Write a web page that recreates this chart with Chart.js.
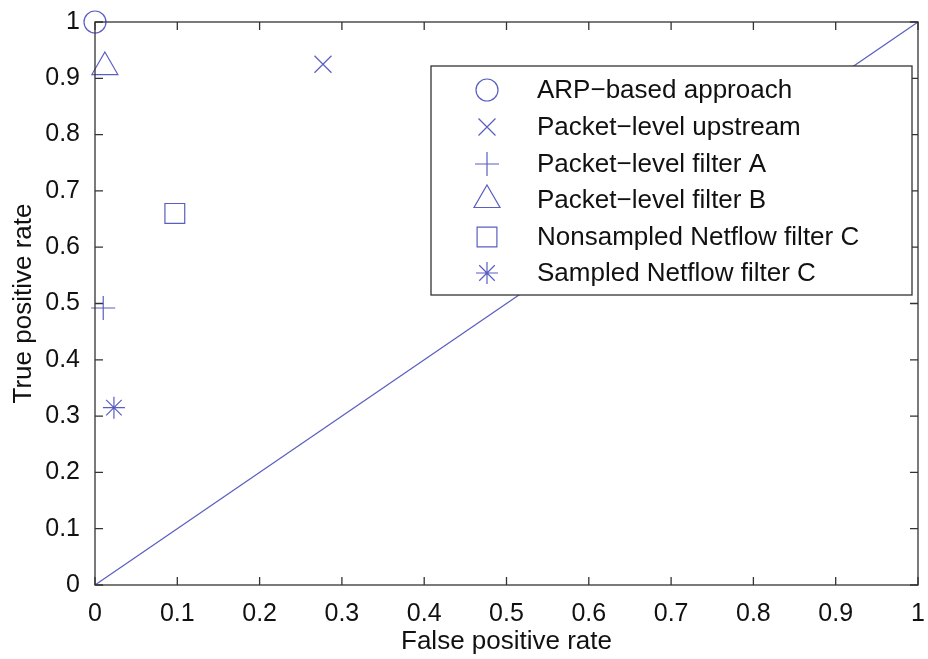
<!DOCTYPE html>
<html>
<head>
<meta charset="utf-8">
<script src="https://cdn.jsdelivr.net/npm/chart.js@4.4.1/dist/chart.umd.min.js"></script>
<style>
  html, body { margin: 0; padding: 0; background: #fff; }
  #wrap { width: 928px; height: 659px; }
</style>
</head>
<body>
<div id="wrap"><canvas id="chart" width="928" height="659"></canvas></div>
<script>
// data
var seriesNames = ['ARP\u2212based approach', 'Packet\u2212level upstream', 'Packet\u2212level filter A',
                   'Packet\u2212level filter B', 'Nonsampled Netflow filter C', 'Sampled Netflow filter C'];
var fprValues = [0, 0.277, 0.01, 0.012, 0.097, 0.023];
var tprValues = [1, 0.925, 0.492, 0.92, 0.66, 0.315];
var markers = ['circle', 'crossRot', 'cross', 'triangle', 'rect', 'star'];
var markerSizes = [11, 12, 12, 15, 14, 11];
var diagonalX = [0, 1];
var diagonalY = [0, 1];
var tickValues = [0, 0.1, 0.2, 0.3, 0.4, 0.5, 0.6, 0.7, 0.8, 0.9, 1];

var blue = '#5a5ec0';
var axisColor = '#333333';
var font = 'Arial, "Liberation Sans", Helvetica, sans-serif';

var datasets = seriesNames.map(function (name, i) {
  return {
    type: 'scatter',
    label: name,
    data: [{ x: fprValues[i], y: tprValues[i] }],
    pointStyle: markers[i],
    pointRadius: markerSizes[i],
    pointHoverRadius: markerSizes[i],
    borderColor: blue,
    backgroundColor: 'rgba(0,0,0,0)',
    borderWidth: 1.2,
    clip: false
  };
});
datasets.push({
  type: 'line',
  label: 'diagonal',
  data: diagonalX.map(function (x, i) { return { x: x, y: diagonalY[i] }; }),
  borderColor: blue,
  borderWidth: 1.2,
  pointRadius: 0,
  fill: false
});

// matlab-ish box with inward ticks
var boxPlugin = {
  id: 'box',
  afterDatasetsDraw: function (chart) {
    var ctx = chart.ctx, a = chart.chartArea;
    var xs = chart.scales.x, ys = chart.scales.y;
    ctx.save();
    ctx.strokeStyle = axisColor;
    ctx.lineWidth = 1.3;
    ctx.strokeRect(a.left, a.top, a.right - a.left, a.bottom - a.top);
    ctx.beginPath();
    tickValues.forEach(function (v) {
      var px = xs.getPixelForValue(v);
      ctx.moveTo(px, a.bottom); ctx.lineTo(px, a.bottom - 8);
      ctx.moveTo(px, a.top); ctx.lineTo(px, a.top + 8);
      var py = ys.getPixelForValue(v);
      ctx.moveTo(a.left, py); ctx.lineTo(a.left + 8, py);
      ctx.moveTo(a.right, py); ctx.lineTo(a.right - 8, py);
    });
    ctx.stroke();
    ctx.restore();
  }
};

// legend box inside the plot, drawn over the diagonal
var legendPlugin = {
  id: 'boxLegend',
  afterDraw: function (chart) {
    var ctx = chart.ctx;
    var left = 431, top = 66, w = 481, h = 229;
    ctx.save();
    ctx.fillStyle = '#fff';
    ctx.fillRect(left, top, w, h);
    ctx.strokeStyle = axisColor;
    ctx.lineWidth = 1.3;
    ctx.strokeRect(left, top, w, h);
    var rowY = [90, 127, 164, 200, 237, 273];
    seriesNames.forEach(function (name, i) {
      ctx.strokeStyle = blue;
      ctx.fillStyle = 'rgba(0,0,0,0)';
      ctx.lineWidth = 1.2;
      Chart.helpers.drawPoint(ctx, {
        pointStyle: markers[i], radius: markerSizes[i], rotation: 0, borderWidth: 1.2
      }, 487, rowY[i]);
      ctx.font = '26px ' + font;
      ctx.textBaseline = 'middle';
      ctx.fillStyle = '#111';
      ctx.fillText(name, 537, rowY[i] + 1);
    });
    ctx.restore();
  }
};

new Chart(document.getElementById('chart').getContext('2d'), {
  data: { datasets: datasets },
  options: {
    responsive: false,
    animation: false,
    layout: { autoPadding: false, padding: { top: 20, right: 10, left: 0, bottom: 0 } },
    plugins: { legend: { display: false }, tooltip: { enabled: false } },
    scales: {
      x: {
        type: 'linear', min: 0, max: 1,
        afterFit: function (s) { s.height = 74; },
        afterBuildTicks: function (s) { s.ticks = tickValues.map(function (v) { return { value: v }; }); },
        grid: { display: false, tickLength: 14 },
        border: { display: false },
        ticks: { color: '#111', font: { family: font, size: 25 }, padding: 0, maxRotation: 0,
                 callback: function (v) { return String(v); } },
        title: { display: true, text: 'False positive rate', color: '#111',
                 font: { family: font, size: 26 }, padding: { top: 0, bottom: 2 } }
      },
      y: {
        type: 'linear', min: 0, max: 1,
        afterFit: function (s) { s.width = 95; },
        afterBuildTicks: function (s) { s.ticks = tickValues.map(function (v) { return { value: v }; }); },
        grid: { display: false, tickLength: 8 },
        border: { display: false },
        ticks: { color: '#111', font: { family: font, size: 25 }, padding: 7,
                 callback: function (v) { return String(v); } },
        title: { display: true, text: 'True positive rate', color: '#111',
                 font: { family: font, size: 26 }, padding: { top: 8, bottom: 0 } }
      }
    }
  },
  plugins: [boxPlugin, legendPlugin]
});
</script>
</body>
</html>
